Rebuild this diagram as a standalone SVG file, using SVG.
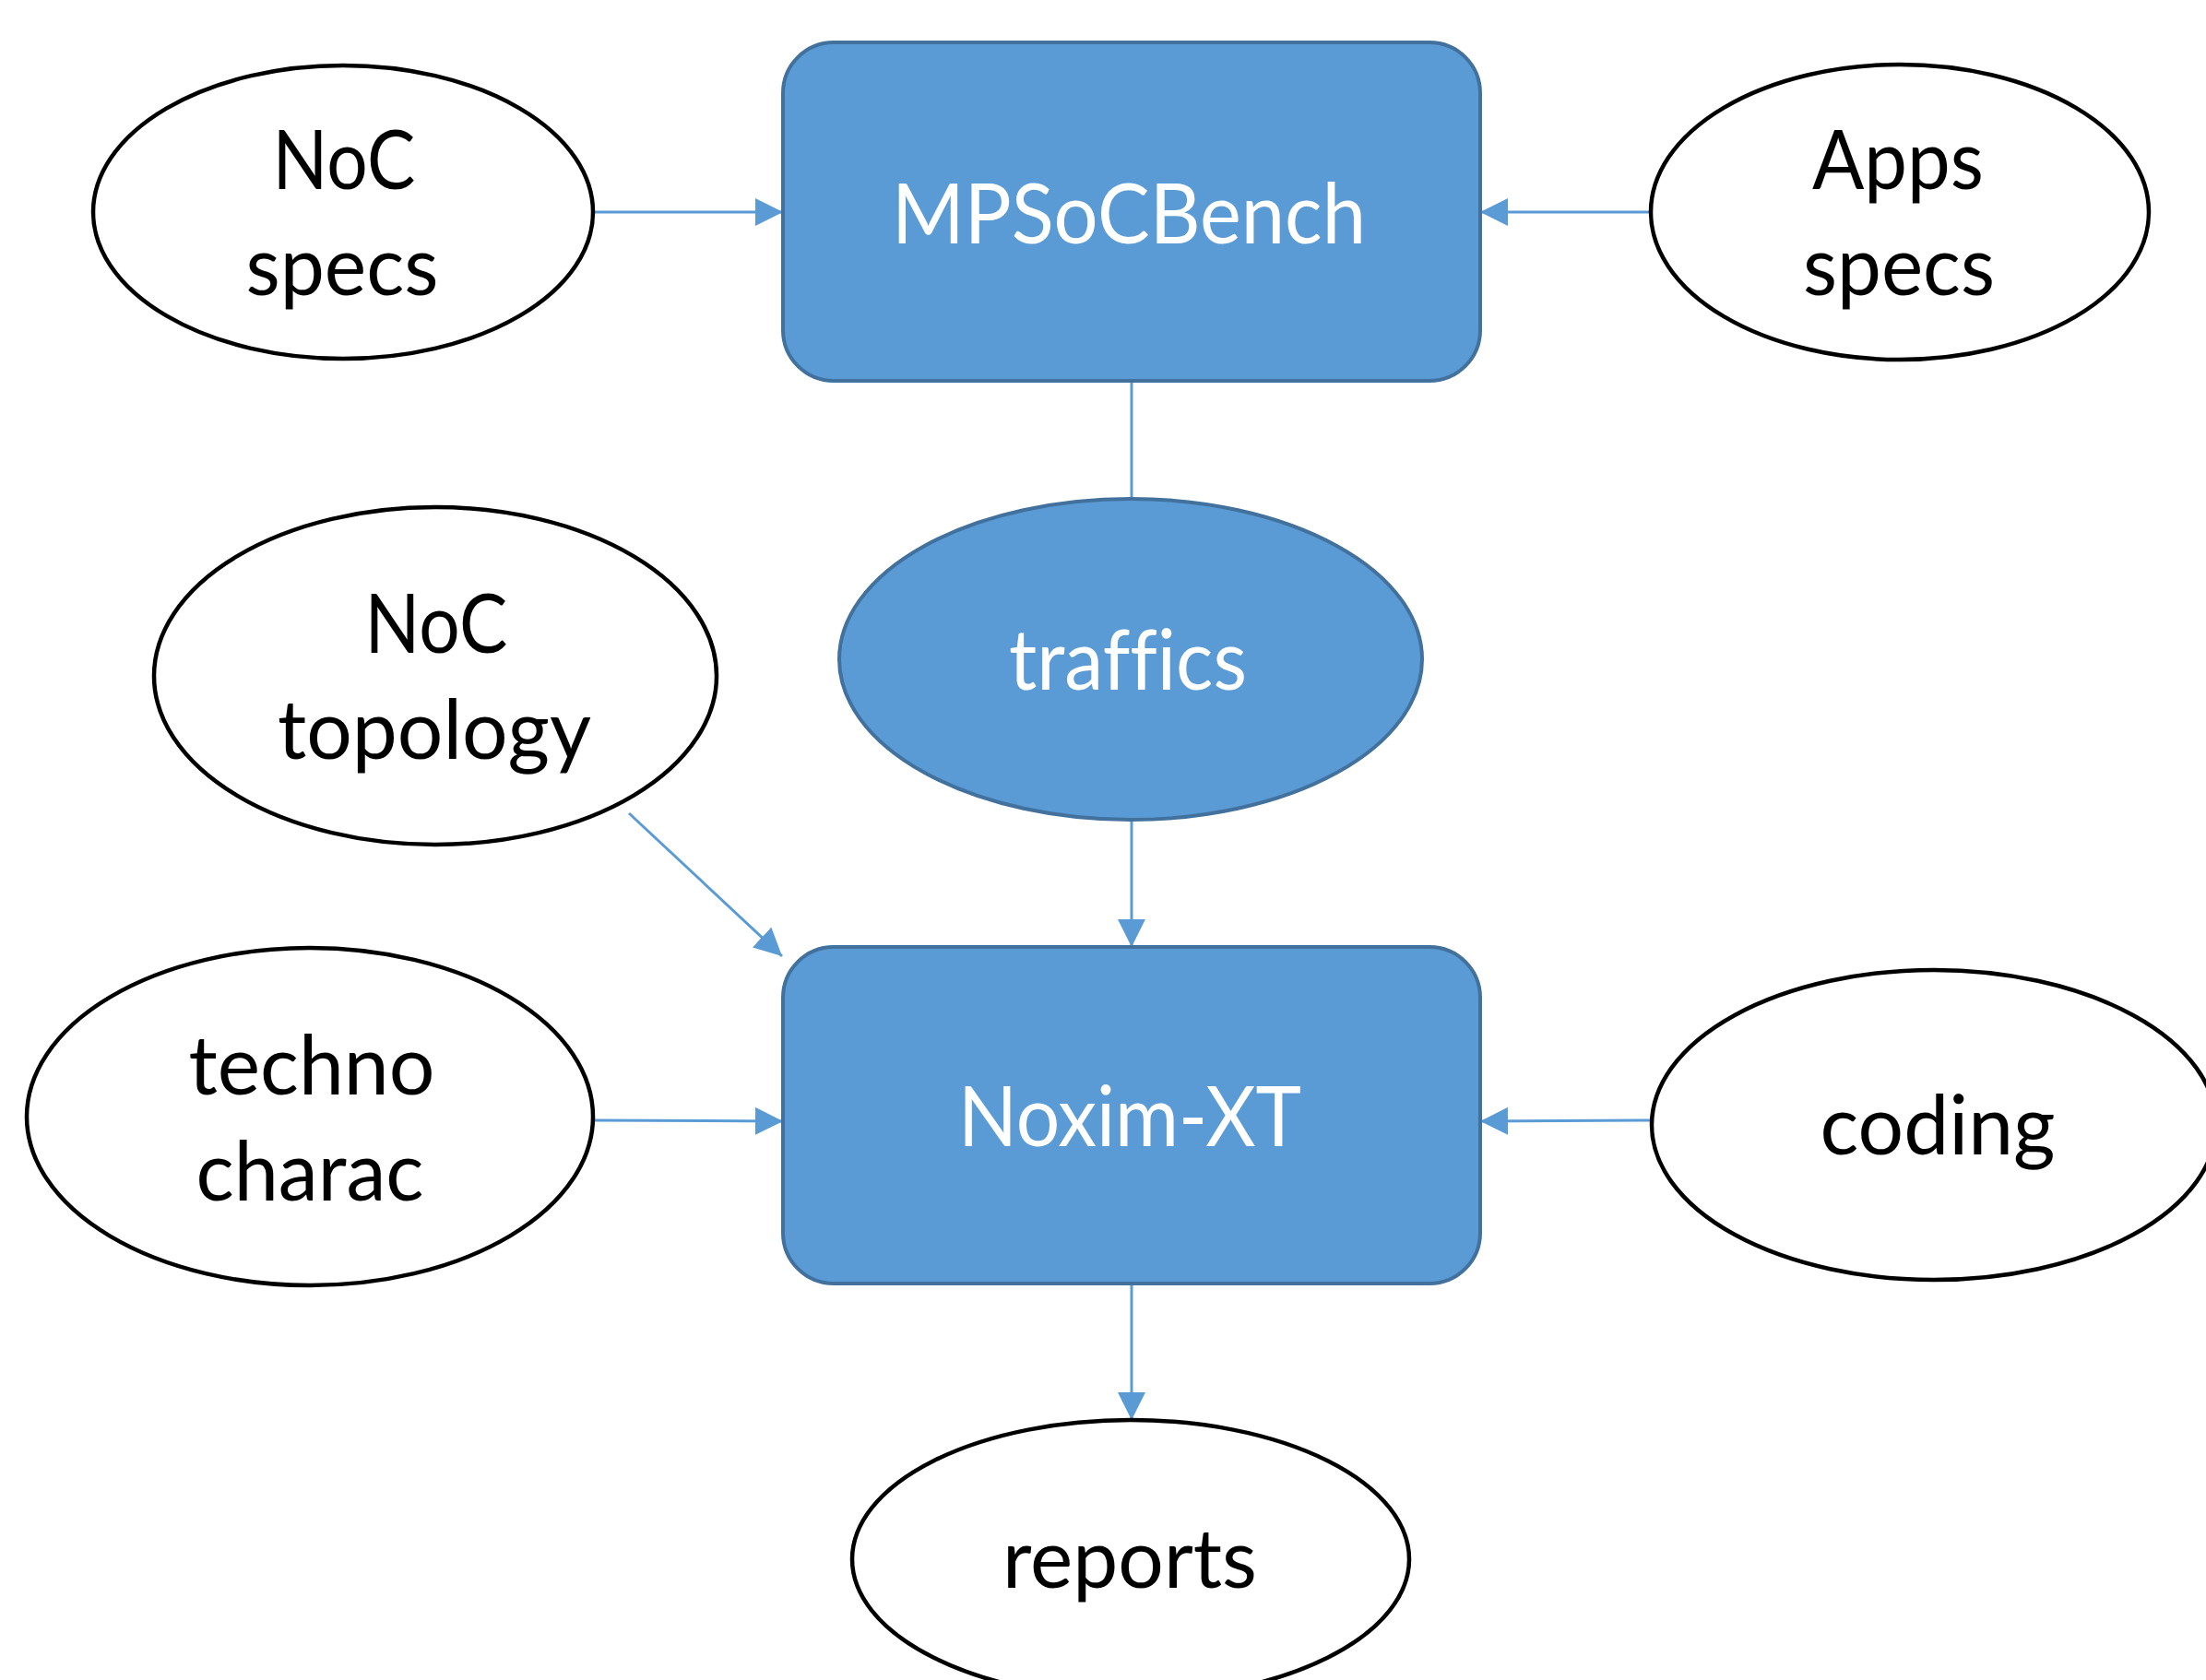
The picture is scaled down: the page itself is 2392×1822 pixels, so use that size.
<svg xmlns="http://www.w3.org/2000/svg" width="2392" height="1822" viewBox="0 0 2392 1822">
<style>
.box{fill:#5B9BD5;stroke:#41719C;stroke-width:4}
.ell{fill:#FFFFFF;stroke:#000000;stroke-width:4.5}
.tb{font-family:Lato,"Open Sans","Liberation Sans",sans-serif;font-size:90px;fill:#000000;text-anchor:middle;font-variant-ligatures:none}
.tw{font-family:Lato,"Open Sans","Liberation Sans",sans-serif;font-size:92px;fill:#FFFFFF;text-anchor:middle;font-variant-ligatures:none}
.conn{stroke:#5B9BD5;stroke-width:3;fill:none}
</style>
<defs>
<marker id="arr" markerUnits="userSpaceOnUse" markerWidth="30" markerHeight="30" refX="30" refY="15" orient="auto">
<path d="M0,0 L30,15 L0,30 z" fill="#5B9BD5"/>
</marker>
</defs>
<rect width="2392" height="1822" fill="#FFFFFF"/>
<g id="connectors">
<line class="conn" x1="645" y1="230" x2="849" y2="230" marker-end="url(#arr)"/>
<line class="conn" x1="1789" y1="230" x2="1605" y2="230" marker-end="url(#arr)"/>
<line class="conn" x1="1227" y1="413" x2="1227" y2="541"/>
<line class="conn" x1="1227" y1="888" x2="1227" y2="1027" marker-end="url(#arr)"/>
<line class="conn" x1="682" y1="882" x2="848" y2="1037" marker-end="url(#arr)"/>
<line class="conn" x1="645" y1="1215" x2="849" y2="1216" marker-end="url(#arr)"/>
<line class="conn" x1="1789" y1="1215" x2="1605" y2="1216" marker-end="url(#arr)"/>
<line class="conn" x1="1227" y1="1393" x2="1227" y2="1540" marker-end="url(#arr)"/>
</g>
<g id="noc-specs">
<ellipse class="ell" cx="372" cy="230" rx="271" ry="159"/>
<text class="tb" x="373" y="205" textLength="155" lengthAdjust="spacingAndGlyphs">NoC</text>
<text class="tb" x="371" y="320" textLength="209" lengthAdjust="spacingAndGlyphs">specs</text>
</g>
<g id="mpsocbench">
<rect class="box" x="849" y="46" width="756" height="367" rx="55" ry="55"/>
<text class="tw" x="1224" y="264" textLength="514" lengthAdjust="spacingAndGlyphs">MPSoCBench</text>
</g>
<g id="apps-specs">
<ellipse class="ell" cx="2060" cy="230" rx="270" ry="160"/>
<text class="tb" x="2058" y="205" textLength="186" lengthAdjust="spacingAndGlyphs">Apps</text>
<text class="tb" x="2059" y="320" textLength="208" lengthAdjust="spacingAndGlyphs">specs</text>
</g>
<g id="noc-topology">
<ellipse class="ell" cx="472" cy="733" rx="305" ry="183"/>
<text class="tb" x="473" y="708" textLength="155" lengthAdjust="spacingAndGlyphs">NoC</text>
<text class="tb" x="471" y="823" textLength="340" lengthAdjust="spacingAndGlyphs">topology</text>
</g>
<g id="traffics">
<ellipse class="box" cx="1226" cy="715" rx="316" ry="174"/>
<text class="tw" x="1223" y="748" textLength="258" lengthAdjust="spacingAndGlyphs">traffics</text>
</g>
<g id="noxim-xt">
<rect class="box" x="849" y="1027" width="756" height="365" rx="55" ry="55"/>
<text class="tw" x="1225" y="1243" textLength="372" lengthAdjust="spacingAndGlyphs">Noxim-XT</text>
</g>
<g id="techno-charac">
<ellipse class="ell" cx="336" cy="1211" rx="307" ry="183"/>
<text class="tb" x="338" y="1187" textLength="267" lengthAdjust="spacingAndGlyphs">techno</text>
<text class="tb" x="336" y="1302" textLength="247" lengthAdjust="spacingAndGlyphs">charac</text>
</g>
<g id="coding">
<ellipse class="ell" cx="2097" cy="1220" rx="306" ry="168"/>
<text class="tb" x="2101" y="1252" textLength="255" lengthAdjust="spacingAndGlyphs">coding</text>
</g>
<g id="reports">
<ellipse class="ell" cx="1226" cy="1691" rx="302" ry="151"/>
<text class="tb" x="1225" y="1722" textLength="276" lengthAdjust="spacingAndGlyphs">reports</text>
</g>
</svg>
